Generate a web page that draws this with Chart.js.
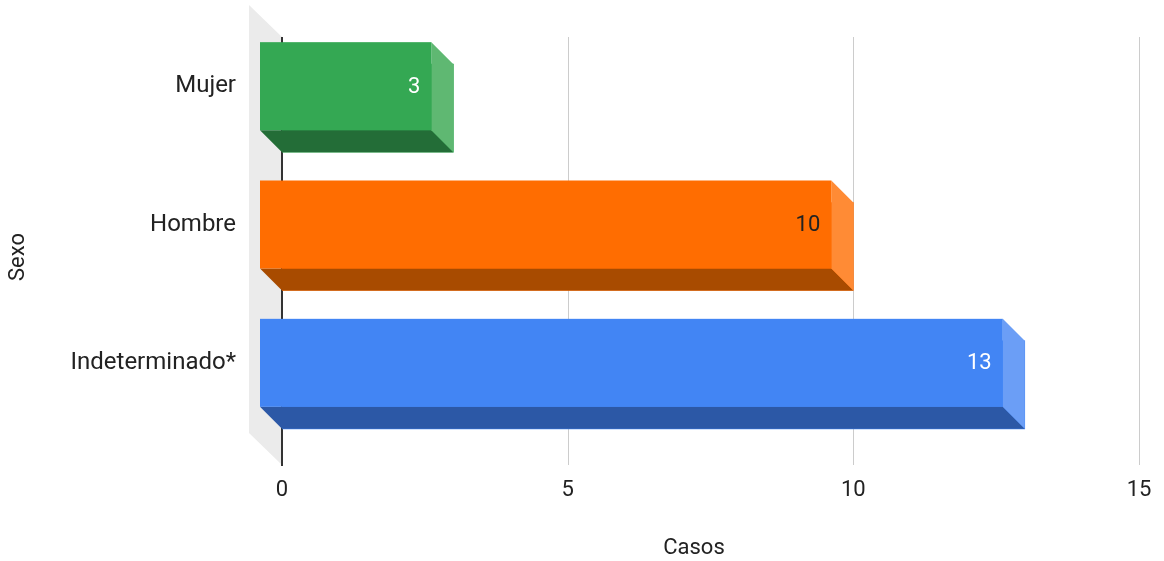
<!DOCTYPE html>
<html>
<head>
<meta charset="utf-8">
<script src="https://cdn.jsdelivr.net/npm/chart.js@4.4.1/dist/chart.umd.min.js"></script>
<style>
  html, body { margin: 0; padding: 0; background: #ffffff; }
  #wrap { width: 1164px; height: 561px; position: relative; }
</style>
</head>
<body>
<div id="wrap"><canvas id="c" width="1164" height="561"></canvas></div>
<script>
// Casos por sexo
const categories = ['Mujer', 'Hombre', 'Indeterminado*'];
const casos = [3, 10, 13];
const xTicks = [0, 5, 10, 15];
const xTitle = 'Casos';
const yTitle = 'Sexo';

const frontColors = ['#34a853', '#ff6d01', '#4285f4'];
const sideColors = ['#5fb872', '#ff8b35', '#6b9ef6'];
const bottomColors = ['#236d37', '#a84b00', '#2c58a6'];
const valueLabelColors = ['#ffffff', '#222222', '#ffffff'];

const FONT = 'Roboto, "Noto Sans", sans-serif';
const DEPTH = 22;      // offset of the front face of each block
const WALL_DEPTH = 33; // depth of the grey back wall

const box3d = {
  id: 'box3d',
  beforeDatasetsDraw(chart) {
    const { ctx, chartArea: a, scales: { x } } = chart;
    ctx.save();
    // grey side wall
    ctx.fillStyle = '#ebebeb';
    ctx.beginPath();
    ctx.moveTo(a.left - WALL_DEPTH, a.top - 34);
    ctx.lineTo(a.left, a.top - 2);
    ctx.lineTo(a.left, a.bottom + 11);
    ctx.lineTo(a.left - WALL_DEPTH, a.bottom - 21);
    ctx.closePath();
    ctx.fill();
    // vertical grid lines
    xTicks.forEach(v => {
      const px = Math.round(x.getPixelForValue(v));
      ctx.beginPath();
      if (v === 0) {
        ctx.strokeStyle = '#333333';
        ctx.lineWidth = 2;
        ctx.moveTo(px, a.top - 2);
        ctx.lineTo(px, a.bottom + 12);
      } else {
        ctx.strokeStyle = '#cccccc';
        ctx.lineWidth = 1;
        ctx.moveTo(px + 0.5, a.top - 2);
        ctx.lineTo(px + 0.5, a.bottom + 11);
      }
      ctx.stroke();
    });
    ctx.restore();
  },
  afterDatasetsDraw(chart) {
    const { ctx } = chart;
    const meta = chart.getDatasetMeta(0);
    ctx.save();
    meta.data.forEach((bar, i) => {
      const p = bar.getProps(['x', 'y', 'base', 'height'], true);
      const x0 = p.base, x1 = p.x;
      const yt = p.y - p.height / 2, yb = p.y + p.height / 2;
      const d = DEPTH;
      // bottom face
      ctx.fillStyle = bottomColors[i];
      ctx.beginPath();
      ctx.moveTo(x0 - d, yb - d);
      ctx.lineTo(x1 - d, yb - d);
      ctx.lineTo(x1, yb);
      ctx.lineTo(x0, yb);
      ctx.closePath();
      ctx.fill();
      // side face
      ctx.fillStyle = sideColors[i];
      ctx.beginPath();
      ctx.moveTo(x1 - d, yt - d);
      ctx.lineTo(x1, yt);
      ctx.lineTo(x1, yb);
      ctx.lineTo(x1 - d, yb - d);
      ctx.closePath();
      ctx.fill();
      // front face
      ctx.fillStyle = frontColors[i];
      ctx.fillRect(x0 - d, yt - d, x1 - x0, yb - yt);
      // value label
      ctx.fillStyle = valueLabelColors[i];
      ctx.font = '22px ' + FONT;
      ctx.textAlign = 'right';
      ctx.textBaseline = 'middle';
      ctx.fillText(String(casos[i]), x1 - d - 11, p.y - d + 1);
    });
    ctx.restore();
  },
  afterDraw(chart) {
    const { ctx, chartArea: a } = chart;
    ctx.save();
    ctx.fillStyle = '#222222';
    ctx.font = '22px ' + FONT;
    ctx.textAlign = 'center';
    ctx.textBaseline = 'middle';
    // horizontal axis title, centred across wall and plot
    ctx.fillText(xTitle, (a.left - WALL_DEPTH + a.right) / 2, 548);
    // vertical axis title
    ctx.translate(18, 257);
    ctx.rotate(-Math.PI / 2);
    ctx.fillText(yTitle, 0, 0);
    ctx.restore();
  }
};

new Chart(document.getElementById('c'), {
  type: 'bar',
  data: {
    labels: categories,
    datasets: [{
      label: xTitle,
      data: casos,
      backgroundColor: frontColors,
      borderWidth: 0,
      barThickness: 88
    }]
  },
  options: {
    indexAxis: 'y',
    responsive: false,
    animation: false,
    devicePixelRatio: 1,
    layout: { padding: { left: 0, right: 25, top: 39, bottom: 0 } },
    plugins: { legend: { display: false }, tooltip: { enabled: false } },
    scales: {
      x: {
        type: 'linear',
        position: 'bottom',
        min: 0,
        max: 15,
        afterBuildTicks(s) { s.ticks = xTicks.map(v => ({ value: v })); },
        ticks: { padding: 23, color: '#222222', font: { family: FONT, size: 22 } },
        grid: { display: false, drawTicks: false },
        border: { display: false },
        afterFit(s) {
          s.height = 107;
          s.paddingLeft = 0;
          s.paddingRight = 0;
        }
      },
      y: {
        type: 'category',
        ticks: { padding: 46, labelOffset: -22, color: '#222222', font: { family: FONT, size: 24 } },
        grid: { display: false, drawTicks: false },
        border: { display: false },
        afterFit(s) {
          s.width = 282;
          s.paddingTop = 0;
          s.paddingBottom = 0;
        }
      }
    }
  },
  plugins: [box3d]
});
</script>
</body>
</html>
